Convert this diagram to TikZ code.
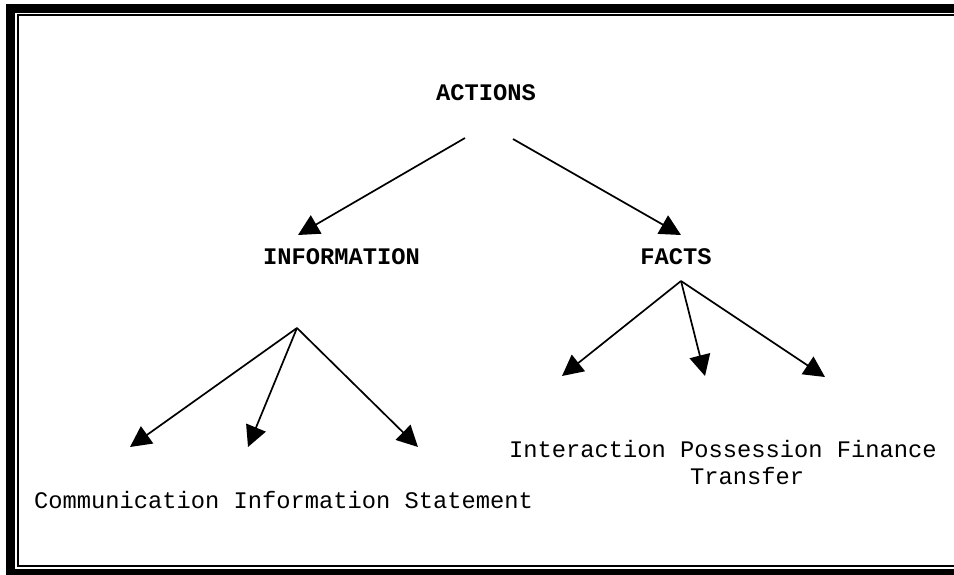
\documentclass[tikz,border=0pt]{standalone}
\usepackage{fontspec}
\setmonofont{Liberation Mono}
\usetikzlibrary{arrows.meta}
\begin{document}
\begin{tikzpicture}[x=1pt,y=-1pt,
  lbl/.style={inner sep=0pt, font=\fontsize{23.75}{28}\selectfont\ttfamily},
  head/.style={lbl, font=\fontsize{23.75}{28}\selectfont\ttfamily\bfseries},
  arr/.style={line width=1.7pt, -{Triangle[length=21pt,width=21pt]}}]
\useasboundingbox (0,0) rectangle (954,575);
\fill[white] (0,0) rectangle (954,575);
\clip (0,0) rectangle (954,575);
% frame
\draw[line width=9pt] (10.5,8.5) rectangle (965,573.5);
\draw[line width=2pt] (18,15) rectangle (960,566);
% headings
\node[head, anchor=base] (actions) at (486,101) {ACTIONS};
\node[head, anchor=base] (information) at (341.5,264) {INFORMATION};
\node[head, anchor=base] (facts) at (676,264) {FACTS};
% leaf texts
\node[lbl, anchor=base west] (infoleaves) at (34,508) {Communication Information Statement};
\node[lbl, anchor=base west] (factleaves) at (509,457) {Interaction Possession Finance};
\node[lbl, anchor=base west] (transfer) at (690,484) {Transfer};
% connector points
\coordinate (a1) at (465,138);
\coordinate (a2) at (513,139);
\coordinate (t1) at (298,235);
\coordinate (t2) at (681,235);
\coordinate (iapex) at (297,328);
\coordinate (i1) at (130,447);
\coordinate (i2) at (248,447);
\coordinate (i3) at (418,447);
\coordinate (fapex) at (681,281);
\coordinate (f1) at (562,376);
\coordinate (f2) at (705,376);
\coordinate (f3) at (825,377);
% connectors
\draw[arr] (a1) -- (t1);
\draw[arr] (a2) -- (t2);
\draw[arr] (iapex) -- (i1);
\draw[arr] (iapex) -- (i2);
\draw[arr] (iapex) -- (i3);
\draw[arr] (fapex) -- (f1);
\draw[arr] (fapex) -- (f2);
\draw[arr] (fapex) -- (f3);
\end{tikzpicture}
\end{document}
